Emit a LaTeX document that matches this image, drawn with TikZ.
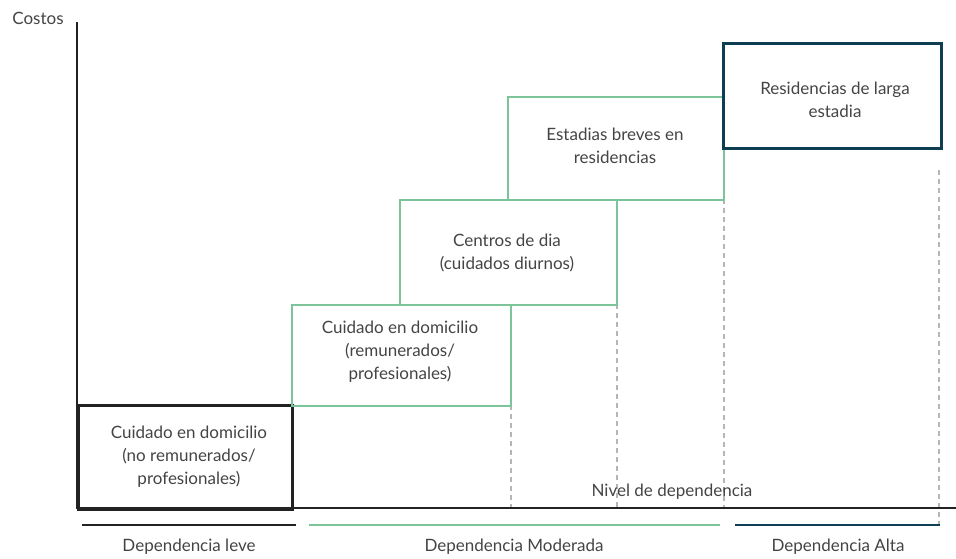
\documentclass[tikz,border=0pt]{standalone}
\usepackage{fontspec}
\setmainfont{Lato}
\definecolor{txt}{HTML}{444444}
\definecolor{grn}{HTML}{7CC49A}
\definecolor{teal}{HTML}{0E3E54}
\definecolor{axis}{HTML}{222222}
\definecolor{dash}{HTML}{B5B5B5}
\tikzset{
  x=1pt,y=-1pt,
  lbl/.style={text=txt,font=\fontsize{17}{23}\selectfont,align=center},
  box/.style={lbl,anchor=north west,inner sep=0pt},
  gbox/.style={box,draw=grn,line width=2pt},
  guide/.style={draw=dash,line width=2.5pt,dash pattern=on 5pt off 4pt},
}
\begin{document}
\begin{tikzpicture}
\useasboundingbox (0,0) rectangle (956,558);
% guides
\coordinate (g1t) at (511,405); \coordinate (g1b) at (511,508);
\coordinate (g2t) at (617,304); \coordinate (g2b) at (617,508);
\coordinate (g3t) at (724,199); \coordinate (g3b) at (724,508);
\coordinate (g4t) at (939,170); \coordinate (g4b) at (939,525);
\draw[guide] (g1t) -- (g1b);
\draw[guide] (g2t) -- (g2b);
\draw[guide] (g3t) -- (g3b);
\draw[guide] (g4t) -- (g4b);
% boxes
\node[box,draw=axis,line width=2.5pt,minimum width=214pt,minimum height=104pt] (b1) at (77,404) {};
\node[lbl] (t1) at (189,457) {Cuidado en domicilio\\(no remunerados/\\profesionales)};
\node[gbox,minimum width=219pt,minimum height=101pt] (b2) at (291,304) {};
\node[lbl] (t2) at (400,352) {Cuidado en domicilio\\(remunerados/\\profesionales)};
\node[gbox,minimum width=217pt,minimum height=105pt] (b3) at (399,199) {};
\node[lbl] (t3) at (507,253) {Centros de dia\\(cuidados diurnos)};
\node[gbox,minimum width=216pt,minimum height=103pt] (b4) at (507,96) {};
\node[lbl] (t4) at (615,146) {Estadias breves en\\residencias};
\node[box,draw=teal,line width=2.5pt,minimum width=218pt,minimum height=105pt] (b5) at (722,42) {};
\node[lbl] (t5) at (835,100) {Residencias de larga\\estadia};
% axes
\coordinate (o) at (77,508);
\coordinate (ytop) at (77,22);
\coordinate (xend) at (956,508);
\draw[axis,line width=2.5pt] (ytop) -- (o) -- (xend);
\node[lbl,anchor=center] (cost) at (38,18) {Costos};
\node[lbl,anchor=center] (nivel) at (672,492) {Nivel de dependencia};
% bars
\coordinate (l1) at (82,525); \coordinate (l2) at (296,525);
\coordinate (m1) at (309,525); \coordinate (m2) at (720,525);
\coordinate (a1) at (735,525); \coordinate (a2) at (940,525);
\draw[axis,line width=2.5pt] (l1) -- (l2);
\draw[grn,line width=2.5pt] (m1) -- (m2);
\draw[teal,line width=2.5pt] (a1) -- (a2);
\node[lbl] (dl) at (189,547) {Dependencia leve};
\node[lbl] (dm) at (514,547) {Dependencia Moderada};
\node[lbl] (da) at (838,547) {Dependencia Alta};
\end{tikzpicture}
\end{document}
